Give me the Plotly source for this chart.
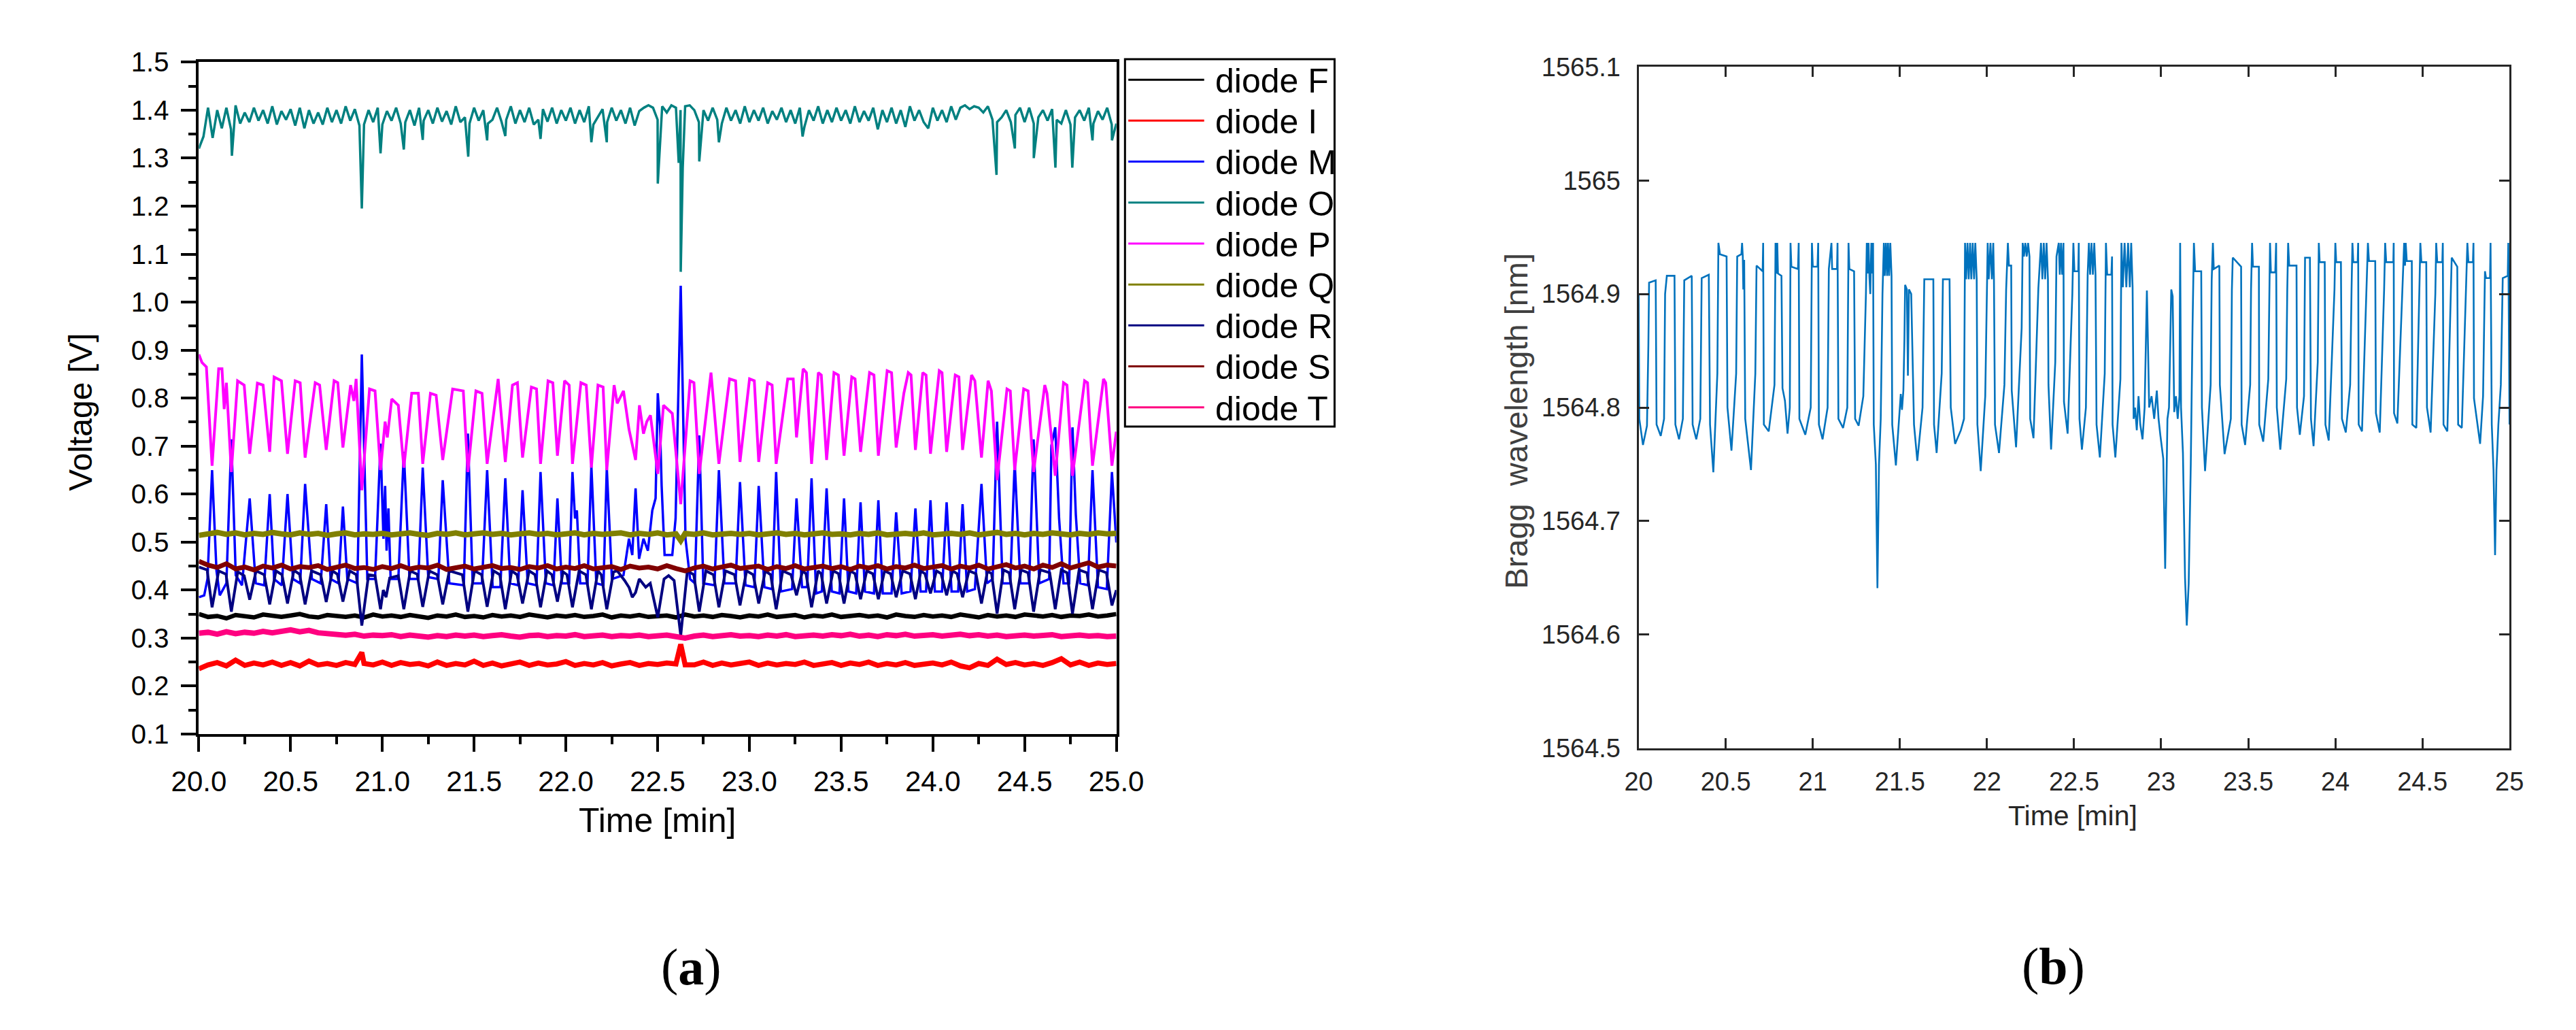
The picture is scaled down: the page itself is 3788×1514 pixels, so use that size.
import plotly.graph_objects as go

# ---------------- (a) diode voltages ----------------
grid_time = [round(20 + 0.05 * k, 2) for k in range(101)]
o_grid_time = [round(20 + 0.025 * k, 3) for k in range(201)]

diode_F = [0.350,0.344,0.346,0.341,0.348,0.345,0.343,0.349,0.346,0.344,
           0.347,0.350,0.345,0.343,0.348,0.346,0.344,0.347,0.343,0.349,
           0.345,0.347,0.344,0.348,0.346,0.342,0.347,0.345,0.349,0.344,
           0.346,0.343,0.348,0.345,0.347,0.344,0.349,0.346,0.343,0.347,
           0.345,0.348,0.344,0.346,0.349,0.343,0.347,0.345,0.348,0.344,
           0.346,0.347,0.343,0.349,0.345,0.347,0.344,0.348,0.346,0.343,
           0.347,0.345,0.349,0.344,0.346,0.348,0.343,0.347,0.345,0.349,
           0.344,0.346,0.348,0.345,0.347,0.343,0.349,0.346,0.344,0.348,
           0.345,0.347,0.344,0.349,0.346,0.343,0.348,0.345,0.347,0.344,
           0.349,0.346,0.345,0.348,0.344,0.347,0.346,0.349,0.345,0.347,
           0.350]

diode_I = [0.236,0.244,0.249,0.242,0.254,0.243,0.248,0.244,0.250,0.243,
           0.249,0.242,0.252,0.244,0.247,0.243,0.249,0.245,0.247,0.244,
           0.250,0.243,0.249,0.245,0.247,0.242,0.250,0.243,0.247,0.244,
           0.252,0.243,0.248,0.242,0.246,0.250,0.243,0.248,0.244,0.246,
           0.251,0.243,0.247,0.244,0.249,0.242,0.246,0.249,0.243,0.247,
           0.245,0.248,0.246,0.244,0.244,0.250,0.243,0.248,0.244,0.247,
           0.250,0.243,0.248,0.244,0.247,0.245,0.250,0.243,0.246,0.249,
           0.243,0.248,0.245,0.250,0.243,0.247,0.244,0.249,0.243,0.246,
           0.248,0.244,0.250,0.242,0.238,0.247,0.243,0.256,0.245,0.249,
           0.244,0.247,0.243,0.249,0.257,0.244,0.250,0.243,0.248,0.245,
           0.247]
i_spike_time = [20.888, 22.626]
i_spike_volt = [0.270, 0.287]

m_points = [
    (20.000,0.385),(20.029,0.389),(20.047,0.423),(20.072,0.650),(20.096,0.440),(20.114,0.389),
    (20.150,0.414),(20.177,0.714),(20.201,0.431),(20.235,0.410),(20.277,0.591),(20.310,0.414),
    (20.356,0.410),(20.386,0.600),(20.410,0.423),(20.452,0.410),(20.483,0.600),(20.513,0.423),
    (20.552,0.414),(20.579,0.621),(20.616,0.423),(20.664,0.414),(20.694,0.579),(20.718,0.423),
    (20.761,0.414),(20.785,0.574),(20.809,0.423),(20.864,0.414),(20.888,0.891),(20.918,0.423),
    (20.960,0.423),(20.990,0.705),(21.006,0.507),(21.015,0.617),(21.023,0.482),(21.033,0.570),
    (21.045,0.423),(21.087,0.423),(21.117,0.688),(21.148,0.423),(21.196,0.423),(21.220,0.655),
    (21.250,0.427),(21.305,0.423),(21.329,0.629),(21.365,0.414),(21.444,0.410),(21.466,0.726),
    (21.492,0.414),(21.543,0.414),(21.571,0.650),(21.601,0.406),(21.643,0.406),(21.670,0.633),
    (21.697,0.414),(21.740,0.410),(21.764,0.608),(21.792,0.414),(21.840,0.410),(21.862,0.646),
    (21.891,0.414),(21.933,0.410),(21.954,0.591),(21.978,0.414),(22.018,0.414),(22.036,0.646),
    (22.050,0.549),(22.060,0.566),(22.078,0.414),(22.118,0.414),(22.139,0.659),(22.166,0.414),
    (22.205,0.410),(22.223,0.655),(22.251,0.423),(22.314,0.431),(22.344,0.507),(22.362,0.473),
    (22.380,0.612),(22.399,0.465),(22.423,0.507),(22.447,0.482),(22.471,0.566),(22.489,0.591),
    (22.501,0.810),(22.513,0.743),(22.522,0.617),(22.538,0.473),(22.580,0.473),(22.598,0.549),
    (22.626,1.034),(22.652,0.507),(22.677,0.423),(22.703,0.414),(22.727,0.722),(22.749,0.414),
    (22.810,0.410),(22.834,0.650),(22.864,0.414),(22.925,0.414),(22.949,0.625),(22.979,0.410),
    (23.027,0.406),(23.051,0.617),(23.082,0.406),(23.124,0.402),(23.146,0.646),(23.172,0.397),
    (23.233,0.402),(23.257,0.591),(23.287,0.406),(23.315,0.406),(23.339,0.633),(23.364,0.393),
    (23.395,0.397),(23.421,0.612),(23.449,0.397),(23.491,0.393),(23.516,0.591),(23.540,0.397),
    (23.582,0.393),(23.606,0.583),(23.630,0.397),(23.679,0.393),(23.703,0.587),(23.727,0.393),
    (23.775,0.393),(23.800,0.562),(23.830,0.393),(23.878,0.397),(23.905,0.570),(23.933,0.397),
    (23.963,0.397),(23.987,0.587),(24.011,0.397),(24.050,0.397),(24.075,0.583),(24.102,0.397),
    (24.138,0.397),(24.162,0.579),(24.187,0.397),(24.229,0.402),(24.265,0.621),(24.295,0.414),
    (24.326,0.423),(24.350,0.751),(24.380,0.414),(24.422,0.414),(24.446,0.667),(24.477,0.414),
    (24.525,0.414),(24.549,0.714),(24.580,0.414),(24.634,0.423),(24.646,0.701),(24.667,0.739),
    (24.688,0.549),(24.712,0.414),(24.743,0.414),(24.761,0.739),(24.779,0.558),(24.803,0.414),
    (24.845,0.410),(24.870,0.650),(24.900,0.406),(24.948,0.402),(24.976,0.646),(25.000,0.499)]

diode_O = [1.320,1.345,1.405,1.342,1.400,1.362,1.405,1.360,1.410,1.372,
           1.395,1.375,1.405,1.378,1.400,1.372,1.408,1.370,1.398,1.380,
           1.402,1.368,1.405,1.362,1.400,1.372,1.395,1.370,1.405,1.375,
           1.400,1.372,1.408,1.378,1.402,1.368,1.370,1.400,1.375,1.405,
           1.370,1.398,1.378,1.405,1.372,1.375,1.400,1.368,1.405,1.378,
           1.400,1.372,1.405,1.376,1.398,1.370,1.408,1.375,1.385,1.372,
           1.405,1.378,1.400,1.372,1.380,1.405,1.375,1.380,1.408,1.372,
           1.400,1.375,1.405,1.370,1.380,1.402,1.376,1.405,1.372,1.400,
           1.378,1.405,1.372,1.400,1.375,1.408,1.370,1.385,1.402,1.375,
           1.405,1.378,1.400,1.372,1.405,1.368,1.398,1.405,1.410,1.405,
           1.380,1.408,1.395,1.410,1.405,1.400,1.408,1.410,1.400,1.375,
           1.400,1.378,1.405,1.380,1.372,1.405,1.378,1.400,1.372,1.408,
           1.375,1.400,1.378,1.405,1.372,1.398,1.380,1.405,1.375,1.400,
           1.372,1.405,1.365,1.400,1.378,1.408,1.372,1.400,1.375,1.405,
           1.378,1.400,1.372,1.408,1.375,1.398,1.378,1.405,1.360,1.400,
           1.375,1.405,1.372,1.400,1.365,1.408,1.378,1.400,1.375,1.362,
           1.405,1.378,1.400,1.375,1.408,1.380,1.405,1.410,1.402,1.408,
           1.405,1.395,1.408,1.380,1.375,1.385,1.400,1.375,1.390,1.405,
           1.375,1.405,1.372,1.385,1.400,1.378,1.402,1.380,1.372,1.400,
           1.370,1.385,1.400,1.378,1.405,1.372,1.398,1.380,1.405,1.370,
           1.372]
o_dip_time = [20.180, 20.888, 20.990, 21.117, 21.220, 21.468, 21.571, 21.670, 21.862,
              22.139, 22.223, 22.501, 22.615, 22.626, 22.637, 22.727, 22.834, 23.290,
              24.347, 24.447, 24.550, 24.668, 24.760, 24.870, 24.976]
o_dip_volt = [1.305, 1.195, 1.310, 1.318, 1.338, 1.303, 1.337, 1.346, 1.340,
              1.333, 1.333, 1.247, 1.290, 1.063, 1.280, 1.293, 1.333, 1.345,
              1.265, 1.320, 1.300, 1.280, 1.280, 1.337, 1.337]

p_points = [
    (20.000,0.891),(20.017,0.874),(20.041,0.865),(20.072,0.659),(20.108,0.861),(20.126,0.861),
    (20.138,0.777),(20.150,0.832),(20.177,0.646),(20.211,0.836),(20.247,0.827),(20.277,0.684),
    (20.319,0.831),(20.350,0.827),(20.386,0.688),(20.410,0.844),(20.450,0.836),(20.483,0.684),
    (20.525,0.836),(20.552,0.832),(20.579,0.676),(20.634,0.832),(20.658,0.827),(20.694,0.692),
    (20.737,0.836),(20.757,0.832),(20.785,0.697),(20.827,0.827),(20.845,0.794),(20.857,0.840),
    (20.888,0.608),(20.930,0.819),(20.960,0.815),(20.990,0.650),(21.015,0.751),(21.027,0.718),
    (21.051,0.798),(21.087,0.785),(21.117,0.655),(21.160,0.810),(21.196,0.810),(21.220,0.663),
    (21.262,0.810),(21.293,0.806),(21.329,0.671),(21.383,0.819),(21.441,0.815),(21.466,0.646),
    (21.510,0.815),(21.543,0.810),(21.571,0.663),(21.631,0.840),(21.670,0.667),
    (21.709,0.827),(21.736,0.832),(21.764,0.676),(21.812,0.823),(21.840,0.819),(21.862,0.663),
    (21.903,0.836),(21.929,0.832),(21.954,0.680),(21.993,0.836),(22.018,0.827),(22.036,0.663),
    (22.082,0.832),(22.111,0.827),(22.139,0.655),(22.175,0.827),(22.203,0.823),(22.223,0.650),
    (22.263,0.827),(22.280,0.789),(22.314,0.815),(22.344,0.735),(22.380,0.671),(22.401,0.785),
    (22.423,0.726),(22.441,0.751),(22.461,0.764),(22.501,0.642),(22.532,0.785),(22.580,0.768),
    (22.626,0.579),(22.677,0.836),(22.698,0.832),(22.727,0.642),(22.791,0.853),(22.834,0.663),
    (22.892,0.840),(22.925,0.836),(22.949,0.667),(23.001,0.840),(23.027,0.836),(23.051,0.667),
    (23.100,0.832),(23.124,0.827),(23.146,0.663),(23.209,0.840),(23.239,0.840),(23.257,0.718),
    (23.293,0.861),(23.311,0.853),(23.339,0.663),
    (23.376,0.853),(23.392,0.848),(23.421,0.671),(23.461,0.853),(23.485,0.848),(23.516,0.680),
    (23.558,0.844),(23.576,0.840),(23.606,0.688),(23.655,0.853),(23.679,0.848),(23.703,0.680),
    (23.751,0.857),(23.775,0.853),(23.800,0.697),(23.842,0.810),(23.866,0.853),(23.881,0.848),
    (23.905,0.692),(23.945,0.853),(23.963,0.848),(23.987,0.684),(24.035,0.857),(24.050,0.853),
    (24.075,0.688),(24.122,0.848),(24.142,0.844),(24.162,0.692),(24.211,0.848),(24.229,0.836),
    (24.265,0.676),(24.301,0.836),(24.319,0.815),(24.350,0.629),(24.404,0.819),(24.422,0.815),
    (24.446,0.650),(24.495,0.819),(24.519,0.815),(24.549,0.646),(24.610,0.827),(24.622,0.810),
    (24.667,0.638),(24.712,0.832),(24.731,0.827),(24.761,0.638),(24.827,0.836),(24.843,0.832),
    (24.870,0.659),(24.930,0.840),(24.942,0.832),(24.976,0.659),(25.000,0.730)]

diode_Q = [0.514,0.517,0.520,0.516,0.519,0.515,0.518,0.516,0.520,0.517,
           0.515,0.519,0.516,0.518,0.514,0.517,0.519,0.515,0.517,0.516,
           0.518,0.515,0.517,0.519,0.516,0.514,0.518,0.516,0.519,0.515,
           0.517,0.519,0.516,0.518,0.515,0.517,0.519,0.516,0.518,0.515,
           0.517,0.519,0.515,0.518,0.516,0.517,0.519,0.515,0.518,0.516,
           0.519,0.515,0.517,0.518,0.516,0.519,0.515,0.517,0.518,0.516,
           0.518,0.515,0.517,0.519,0.516,0.518,0.515,0.517,0.519,0.516,
           0.517,0.515,0.518,0.516,0.519,0.515,0.517,0.518,0.516,0.519,
           0.515,0.517,0.518,0.516,0.519,0.515,0.517,0.520,0.516,0.518,
           0.515,0.518,0.516,0.519,0.517,0.515,0.518,0.516,0.519,0.517,
           0.518]
q_dip_time = [22.626]
q_dip_volt = [0.503]

r_points = [
    (20.000,0.448),(20.045,0.442),(20.072,0.364),(20.108,0.440),(20.148,0.433),(20.177,0.355),
    (20.212,0.438),(20.247,0.430),(20.277,0.380),(20.312,0.440),(20.356,0.432),(20.386,0.370),
    (20.420,0.440),(20.453,0.432),(20.483,0.372),(20.518,0.441),(20.549,0.433),(20.579,0.370),
    (20.614,0.440),(20.664,0.432),(20.694,0.375),(20.728,0.440),(20.755,0.433),(20.785,0.376),
    (20.822,0.440),(20.858,0.432),(20.888,0.326),(20.925,0.432),(20.960,0.430),(20.990,0.360),
    (21.005,0.400),(21.020,0.385),(21.040,0.425),(21.087,0.430),(21.117,0.360),(21.152,0.440),
    (21.190,0.433),(21.220,0.365),(21.256,0.440),(21.299,0.432),(21.329,0.370),(21.365,0.440),
    (21.436,0.432),(21.466,0.355),(21.502,0.440),(21.541,0.432),(21.571,0.365),(21.606,0.440),
    (21.640,0.432),(21.670,0.360),(21.705,0.440),(21.734,0.432),(21.764,0.372),(21.800,0.440),
    (21.832,0.432),(21.862,0.364),(21.897,0.440),(21.924,0.432),(21.954,0.376),(21.985,0.438),
    (22.006,0.432),(22.036,0.364),(22.072,0.440),(22.109,0.432),(22.139,0.360),(22.175,0.440),
    (22.193,0.432),(22.223,0.360),(22.260,0.438),(22.280,0.440),(22.320,0.420),(22.345,0.405),
    (22.362,0.385),(22.380,0.395),(22.400,0.423),(22.435,0.406),(22.460,0.414),(22.501,0.343),
    (22.535,0.423),(22.560,0.430),(22.590,0.420),(22.626,0.305),(22.662,0.440),(22.697,0.432),
    (22.727,0.355),(22.763,0.440),(22.804,0.432),(22.834,0.364),(22.870,0.440),(22.919,0.432),
    (22.949,0.368),(22.985,0.440),(23.021,0.432),(23.051,0.372),(23.087,0.440),(23.116,0.432),
    (23.146,0.360),(23.182,0.440),(23.227,0.432),(23.257,0.389),(23.290,0.440),(23.309,0.434),
    (23.339,0.364),(23.375,0.440),(23.391,0.434),(23.421,0.372),(23.457,0.440),(23.486,0.434),
    (23.516,0.372),(23.550,0.440),(23.576,0.434),(23.606,0.381),(23.640,0.440),(23.673,0.434),
    (23.703,0.381),(23.737,0.440),(23.770,0.434),(23.800,0.385),(23.836,0.440),(23.875,0.434),
    (23.905,0.381),(23.935,0.440),(23.957,0.434),(23.987,0.393),(24.020,0.440),(24.045,0.434),
    (24.075,0.389),(24.108,0.440),(24.132,0.434),(24.162,0.385),(24.197,0.440),(24.235,0.434),
    (24.265,0.372),(24.298,0.440),(24.320,0.434),(24.350,0.351),(24.385,0.442),(24.416,0.436),
    (24.446,0.360),(24.481,0.442),(24.519,0.436),(24.549,0.355),(24.585,0.442),(24.637,0.436),
    (24.667,0.360),(24.700,0.442),(24.731,0.436),(24.761,0.351),(24.797,0.442),(24.840,0.436),
    (24.870,0.360),(24.905,0.442),(24.946,0.436),(24.976,0.368),(25.000,0.400)]

diode_S = [0.460,0.452,0.447,0.455,0.444,0.448,0.442,0.450,0.446,0.452,
           0.444,0.449,0.447,0.451,0.443,0.448,0.452,0.445,0.447,0.443,
           0.449,0.445,0.451,0.444,0.448,0.446,0.452,0.443,0.447,0.450,
           0.444,0.448,0.451,0.445,0.447,0.443,0.449,0.446,0.451,0.444,
           0.448,0.445,0.451,0.444,0.447,0.449,0.443,0.450,0.446,0.448,
           0.444,0.451,0.445,0.440,0.446,0.450,0.444,0.448,0.452,0.445,
           0.447,0.450,0.443,0.449,0.445,0.451,0.444,0.448,0.450,0.445,
           0.449,0.443,0.450,0.446,0.451,0.444,0.449,0.446,0.452,0.445,
           0.448,0.451,0.444,0.450,0.446,0.452,0.444,0.449,0.453,0.446,
           0.450,0.444,0.452,0.447,0.455,0.446,0.451,0.457,0.448,0.452,
           0.450]

diode_T = [0.310,0.312,0.308,0.313,0.309,0.312,0.310,0.314,0.311,0.315,
           0.317,0.313,0.316,0.311,0.309,0.307,0.306,0.308,0.304,0.306,
           0.305,0.307,0.303,0.306,0.304,0.302,0.305,0.303,0.306,0.304,
           0.306,0.303,0.305,0.307,0.304,0.302,0.305,0.306,0.303,0.305,
           0.304,0.307,0.303,0.305,0.306,0.303,0.305,0.304,0.306,0.303,
           0.304,0.306,0.303,0.300,0.304,0.306,0.303,0.305,0.307,0.304,
           0.305,0.303,0.306,0.304,0.307,0.303,0.305,0.306,0.304,0.307,
           0.305,0.308,0.304,0.306,0.303,0.307,0.305,0.308,0.304,0.306,
           0.307,0.304,0.306,0.308,0.305,0.307,0.304,0.306,0.303,0.305,
           0.306,0.304,0.305,0.307,0.303,0.305,0.306,0.304,0.305,0.303,
           0.304]

diode_names = ["diode F", "diode I", "diode M", "diode O", "diode P",
               "diode Q", "diode R", "diode S", "diode T"]
diode_colors = ["#000000", "#FF0000", "#0000FF", "#008080", "#FF00FF",
                "#808000", "#000080", "#800000", "#FF0080"]

# ---------------- (b) Bragg wavelength ----------------
bragg_points = [
    (20.000,1564.900),(20.004,1564.790),(20.025,1564.767),(20.048,1564.784),(20.056,1564.855),
    (20.060,1564.910),(20.098,1564.912),(20.103,1564.785),(20.127,1564.775),(20.146,1564.790),
    (20.152,1564.900),(20.162,1564.916),(20.206,1564.916),(20.211,1564.785),(20.232,1564.772),
    (20.254,1564.790),(20.262,1564.912),(20.305,1564.916),(20.310,1564.785),(20.331,1564.772),
    (20.354,1564.790),(20.362,1564.914),(20.403,1564.917),(20.410,1564.785),(20.429,1564.743),
    (20.452,1564.830),(20.458,1564.945),(20.467,1564.935),(20.505,1564.933),(20.510,1564.800),
    (20.533,1564.762),(20.560,1564.830),(20.566,1564.933),(20.590,1564.935),(20.594,1564.945),
    (20.598,1564.933),(20.601,1564.904),(20.606,1564.930),(20.612,1564.790),(20.645,1564.745),
    (20.670,1564.830),(20.677,1564.925),(20.712,1564.920),(20.715,1564.945),(20.719,1564.785),
    (20.747,1564.779),(20.780,1564.820),(20.786,1564.945),(20.790,1564.918),(20.796,1564.945),
    (20.800,1564.918),(20.820,1564.916),(20.826,1564.817),(20.840,1564.806),(20.855,1564.777),
    (20.868,1564.800),(20.872,1564.945),(20.877,1564.924),(20.915,1564.922),(20.919,1564.945),
    (20.923,1564.790),(20.957,1564.776),(20.988,1564.800),(20.995,1564.945),(21.000,1564.924),
    (21.027,1564.924),(21.031,1564.945),(21.035,1564.785),(21.056,1564.772),(21.085,1564.800),
    (21.092,1564.922),(21.107,1564.945),(21.111,1564.922),(21.139,1564.922),(21.142,1564.945),
    (21.147,1564.790),(21.174,1564.782),(21.198,1564.800),(21.205,1564.945),(21.210,1564.922),
    (21.237,1564.920),(21.243,1564.790),(21.263,1564.784),(21.290,1564.810),(21.305,1564.900),
    (21.310,1564.945),(21.315,1564.918),(21.320,1564.945),(21.325,1564.915),(21.330,1564.900),
    (21.336,1564.945),(21.341,1564.918),(21.346,1564.945),(21.350,1564.785),(21.362,1564.750),
    (21.371,1564.641),(21.380,1564.750),(21.390,1564.790),(21.400,1564.900),(21.408,1564.945),
    (21.413,1564.916),(21.420,1564.945),(21.426,1564.916),(21.432,1564.945),(21.438,1564.916),
    (21.445,1564.945),(21.452,1564.916),(21.456,1564.785),(21.477,1564.749),(21.495,1564.790),
    (21.505,1564.812),(21.512,1564.798),(21.520,1564.815),(21.526,1564.860),(21.530,1564.908),
    (21.540,1564.904),(21.546,1564.828),(21.552,1564.904),(21.565,1564.900),(21.581,1564.785),
    (21.600,1564.753),(21.630,1564.800),(21.640,1564.913),(21.692,1564.913),(21.696,1564.785),
    (21.711,1564.760),(21.740,1564.830),(21.747,1564.913),(21.785,1564.913),(21.792,1564.800),
    (21.817,1564.768),(21.850,1564.780),(21.868,1564.790),(21.874,1564.945),(21.880,1564.913),
    (21.888,1564.945),(21.895,1564.913),(21.903,1564.945),(21.910,1564.913),(21.918,1564.945),
    (21.926,1564.913),(21.933,1564.945),(21.941,1564.913),(21.945,1564.785),(21.964,1564.744),
    (21.990,1564.810),(22.004,1564.945),(22.010,1564.913),(22.020,1564.945),(22.028,1564.913),
    (22.036,1564.945),(22.040,1564.913),(22.046,1564.785),(22.069,1564.760),(22.100,1564.820),
    (22.110,1564.904),(22.120,1564.945),(22.126,1564.925),(22.139,1564.925),(22.142,1564.815),
    (22.167,1564.765),(22.199,1564.870),(22.205,1564.945),(22.212,1564.933),(22.220,1564.945),
    (22.228,1564.933),(22.236,1564.945),(22.244,1564.933),(22.248,1564.790),(22.267,1564.773),
    (22.295,1564.905),(22.310,1564.945),(22.318,1564.913),(22.326,1564.945),(22.334,1564.913),
    (22.342,1564.945),(22.350,1564.913),(22.353,1564.820),(22.368,1564.763),(22.392,1564.840),
    (22.399,1564.933),(22.412,1564.945),(22.418,1564.917),(22.425,1564.945),(22.432,1564.917),
    (22.439,1564.945),(22.442,1564.805),(22.463,1564.777),(22.490,1564.900),(22.496,1564.945),
    (22.502,1564.920),(22.524,1564.920),(22.527,1564.945),(22.531,1564.790),(22.545,1564.763),
    (22.568,1564.800),(22.578,1564.917),(22.585,1564.945),(22.592,1564.917),(22.600,1564.945),
    (22.608,1564.917),(22.616,1564.945),(22.623,1564.917),(22.629,1564.785),(22.648,1564.756),
    (22.676,1564.830),(22.683,1564.945),(22.690,1564.917),(22.714,1564.917),(22.718,1564.933),
    (22.721,1564.785),(22.737,1564.756),(22.766,1564.825),(22.772,1564.945),(22.780,1564.906),
    (22.790,1564.945),(22.800,1564.906),(22.810,1564.945),(22.820,1564.906),(22.828,1564.945),
    (22.836,1564.906),(22.842,1564.790),(22.850,1564.800),(22.860,1564.780),(22.870,1564.810),
    (22.880,1564.785),(22.893,1564.772),(22.905,1564.800),(22.918,1564.903),(22.925,1564.850),
    (22.931,1564.800),(22.945,1564.810),(22.960,1564.790),(22.975,1564.815),(22.985,1564.790),
    (22.995,1564.776),(23.012,1564.755),(23.023,1564.658),(23.030,1564.740),(23.036,1564.790),
    (23.045,1564.800),(23.058,1564.904),(23.066,1564.898),(23.075,1564.796),(23.085,1564.810),
    (23.095,1564.790),(23.105,1564.810),(23.109,1564.945),(23.114,1564.800),(23.125,1564.760),
    (23.137,1564.650),(23.147,1564.608),(23.158,1564.645),(23.170,1564.750),(23.180,1564.870),
    (23.188,1564.945),(23.195,1564.920),(23.230,1564.920),(23.234,1564.800),(23.252,1564.744),
    (23.284,1564.820),(23.290,1564.912),(23.297,1564.945),(23.302,1564.922),(23.334,1564.925),
    (23.337,1564.820),(23.364,1564.759),(23.400,1564.790),(23.406,1564.904),(23.411,1564.932),
    (23.459,1564.924),(23.462,1564.785),(23.482,1564.767),(23.511,1564.820),(23.516,1564.904),
    (23.522,1564.945),(23.527,1564.924),(23.561,1564.924),(23.563,1564.785),(23.586,1564.770),
    (23.615,1564.825),(23.622,1564.912),(23.625,1564.945),(23.630,1564.919),(23.655,1564.919),
    (23.660,1564.945),(23.664,1564.800),(23.684,1564.763),(23.718,1564.825),(23.724,1564.904),
    (23.729,1564.945),(23.735,1564.925),(23.777,1564.925),(23.780,1564.800),(23.796,1564.776),
    (23.820,1564.810),(23.826,1564.932),(23.854,1564.932),(23.860,1564.790),(23.875,1564.766),
    (23.899,1564.840),(23.905,1564.945),(23.910,1564.928),(23.939,1564.928),(23.943,1564.785),
    (23.962,1564.771),(23.995,1564.904),(24.000,1564.945),(24.005,1564.928),(24.032,1564.928),
    (24.038,1564.790),(24.060,1564.778),(24.085,1564.820),(24.093,1564.904),(24.098,1564.945),
    (24.103,1564.928),(24.128,1564.928),(24.131,1564.945),(24.134,1564.785),(24.153,1564.779),
    (24.180,1564.904),(24.187,1564.945),(24.193,1564.929),(24.229,1564.929),(24.233,1564.795),
    (24.255,1564.778),(24.280,1564.904),(24.286,1564.945),(24.292,1564.928),(24.333,1564.928),
    (24.335,1564.945),(24.337,1564.795),(24.356,1564.786),(24.385,1564.910),(24.395,1564.945),
    (24.400,1564.925),(24.404,1564.945),(24.410,1564.929),(24.439,1564.929),(24.442,1564.785),
    (24.465,1564.782),(24.484,1564.915),(24.488,1564.945),(24.494,1564.928),(24.522,1564.928),
    (24.526,1564.800),(24.547,1564.778),(24.574,1564.900),(24.579,1564.945),(24.585,1564.928),
    (24.614,1564.928),(24.617,1564.945),(24.621,1564.785),(24.643,1564.779),(24.663,1564.904),
    (24.668,1564.932),(24.700,1564.924),(24.705,1564.785),(24.726,1564.782),(24.750,1564.904),
    (24.758,1564.945),(24.764,1564.928),(24.790,1564.928),(24.793,1564.945),(24.796,1564.808),
    (24.831,1564.768),(24.848,1564.810),(24.859,1564.920),(24.865,1564.914),(24.888,1564.914),
    (24.891,1564.945),(24.898,1564.785),(24.908,1564.745),(24.917,1564.670),(24.925,1564.745),
    (24.936,1564.785),(24.950,1564.820),(24.961,1564.914),(24.990,1564.916),(24.993,1564.945),
    (25.000,1564.785)]


def merged(base_t, base_v, extra_t, extra_v):
    pts = sorted(zip(list(base_t) + list(extra_t), list(base_v) + list(extra_v)),
                 key=lambda p: p[0])
    return [p[0] for p in pts], [p[1] for p in pts]


def unzip(points):
    return [p[0] for p in points], [p[1] for p in points]


i_t, i_v = merged(grid_time, diode_I, i_spike_time, i_spike_volt)
o_t, o_v = merged(o_grid_time, diode_O, o_dip_time, o_dip_volt)
q_t, q_v = merged(grid_time, diode_Q, q_dip_time, q_dip_volt)
m_t, m_v = unzip(m_points)
p_t, p_v = unzip(p_points)
r_t, r_v = unzip(r_points)
b_t, b_v = unzip(bragg_points)

series = [
    (grid_time, diode_F, 6.5),
    (i_t, i_v, 7.5),
    (m_t, m_v, 3.5),
    (o_t, o_v, 3.5),
    (p_t, p_v, 4),
    (q_t, q_v, 8),
    (r_t, r_v, 4),
    (grid_time, diode_S, 7),
    (grid_time, diode_T, 8),
]

FONT = "Liberation Sans, Arial, sans-serif"
W, H = 3788, 1514

fig = go.Figure()
for (tx, vy, lw), name, col in zip(series, diode_names, diode_colors):
    fig.add_trace(go.Scatter(x=tx, y=vy, mode="lines", name=name, showlegend=False,
                             line=dict(color=col, width=lw), xaxis="x", yaxis="y"))

fig.add_trace(go.Scatter(x=b_t, y=b_v, mode="lines", showlegend=False,
                         line=dict(color="#0072BD", width=2.6), xaxis="x2", yaxis="y2"))

# domains from pixel boxes
ax_l, ax_r, ay_t, ay_b = 257, 1636, 71.4, 1088.6
bx_l, bx_r, by_t, by_b = 2421, 3730, 78.6, 1110

fig.update_layout(
    width=W, height=H, autosize=False,
    margin=dict(l=0, r=0, t=0, b=0, pad=0),
    paper_bgcolor="white", plot_bgcolor="white",
    font=dict(family=FONT, color="black"),
    showlegend=False,
    xaxis=dict(domain=[ax_l / W, ax_r / W], range=[20, 25], anchor="y",
               tickmode="linear", tick0=20, dtick=0.5, tickformat=".1f",
               ticks="outside", ticklen=22, tickwidth=4, tickcolor="black",
               showline=True, linewidth=4, linecolor="black", mirror=True,
               showgrid=False, zeroline=False,
               tickfont=dict(family=FONT, size=42, color="black"),
               ticklabelstandoff=8,
               minor=dict(ticks="outside", ticklen=11, tickwidth=4, tickcolor="black",
                          dtick=0.25, tick0=20, showgrid=False)),
    yaxis=dict(domain=[1 - ay_b / H, 1 - ay_t / H], range=[0.1, 1.5], anchor="x",
               tickmode="linear", tick0=0.1, dtick=0.1, tickformat=".1f",
               ticks="outside", ticklen=22, tickwidth=4, tickcolor="black",
               showline=True, linewidth=4, linecolor="black", mirror=True,
               showgrid=False, zeroline=False,
               tickfont=dict(family=FONT, size=40, color="black"),
               ticklabelstandoff=10,
               minor=dict(ticks="outside", ticklen=11, tickwidth=4, tickcolor="black",
                          dtick=0.05, tick0=0.1, showgrid=False)),
    xaxis2=dict(domain=[bx_l / W, bx_r / W], range=[20, 25], anchor="y2",
                tickmode="linear", tick0=20, dtick=0.5, tickformat="~g",
                ticks="inside", ticklen=15, tickwidth=3, tickcolor="#262626",
                showline=True, linewidth=3, linecolor="#262626", mirror="ticks",
                showgrid=False, zeroline=False,
                tickfont=dict(family=FONT, size=38, color="#262626"),
                ticklabelstandoff=14),
    yaxis2=dict(domain=[1 - by_b / H, 1 - by_t / H], range=[1564.5, 1565.1], anchor="x2",
                tickmode="linear", tick0=1564.5, dtick=0.1, tickformat="~g",
                ticks="inside", ticklen=15, tickwidth=3, tickcolor="#262626",
                showline=True, linewidth=3, linecolor="#262626", mirror="ticks",
                showgrid=False, zeroline=False,
                tickfont=dict(family=FONT, size=38, color="#262626"),
                ticklabelstandoff=16),
)

# ---- legend box drawn as shapes + text (long sample lines like the original) ----
leg_x0, leg_x1, leg_y0, leg_y1 = 1649, 1964, 67, 623
line_x0, line_x1, text_x = 1654, 1768, 1783
row_y0, row_step = 98, 62

shapes = [dict(type="rect", xref="paper", yref="paper",
               x0=leg_x0 / W, x1=leg_x1 / W, y0=1 - leg_y1 / H, y1=1 - leg_y0 / H,
               line=dict(color="black", width=3), fillcolor="white", layer="above")]
ann = []
for k, (name, col) in enumerate(zip(diode_names, diode_colors)):
    yk = row_y0 + row_step * k
    shapes.append(dict(type="line", xref="paper", yref="paper",
                       x0=line_x0 / W, x1=line_x1 / W, y0=1 - yk / H, y1=1 - yk / H,
                       line=dict(color=col, width=3), layer="above"))
    ann.append(dict(text=name, x=text_x / W, y=1 - (yk + 2) / H, xanchor="left",
                    yanchor="middle", font=dict(family=FONT, size=50, color="black")))

ann += [
    dict(text="Voltage [V]", x=79 / W, y=1 - 601 / H, textangle=-90, xanchor="center",
         yanchor="middle", font=dict(family=FONT, size=48, color="black")),
    dict(text="Time [min]", x=946 / W, y=1 - 1219 / H, xanchor="center", yanchor="middle",
         font=dict(family=FONT, size=50, color="black")),
    dict(text="Bragg  wavelength [nm]", x=2237 / W, y=1 - 615 / H, textangle=-90,
         xanchor="center", yanchor="middle",
         font=dict(family=FONT, size=47, color="#404040")),
    dict(text="Time [min]", x=3074 / W, y=1 - 1212 / H, xanchor="center", yanchor="middle",
         font=dict(family=FONT, size=41, color="#262626")),
    dict(text="(<b>a</b>)", x=997 / W, y=1 - 1441 / H, xanchor="center", yanchor="middle",
         font=dict(family="Liberation Serif, Times New Roman, serif", size=76, color="black")),
    dict(text="(<b>b</b>)", x=3044 / W, y=1 - 1440 / H, xanchor="center", yanchor="middle",
         font=dict(family="Liberation Serif, Times New Roman, serif", size=76, color="black")),
]
for a in ann:
    a.update(xref="paper", yref="paper", showarrow=False)
fig.update_layout(annotations=ann, shapes=shapes)

fig.write_html("out.html", config={"displayModeBar": False},
               post_script="document.body.style.margin='0';")
